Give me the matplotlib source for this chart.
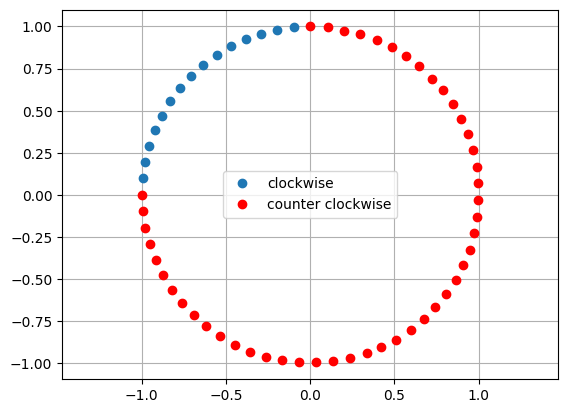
import matplotlib
matplotlib.use("Agg")
import matplotlib.pyplot as plt

# points
cw_x = [-0.098, -0.195, -0.290, -0.383, -0.471, -0.556, -0.634, -0.707,
        -0.773, -0.831, -0.882, -0.924, -0.957, -0.981, -0.995]
cw_y = [0.995, 0.981, 0.957, 0.924, 0.882, 0.831, 0.773, 0.707,
        0.634, 0.556, 0.471, 0.383, 0.290, 0.195, 0.098]

ccw_x = [0.000, 0.103, 0.202, 0.298, 0.395, 0.484, 0.567, 0.649,
         0.724, 0.788, 0.847, 0.895, 0.936, 0.966, 0.990, 0.998,
         0.999, 0.993, 0.975, 0.948, 0.910, 0.863, 0.808, 0.744,
         0.675, 0.597, 0.512, 0.423, 0.335, 0.234, 0.137, 0.032,
         -0.064, -0.165, -0.262, -0.355, -0.445, -0.536, -0.617, -0.689,
         -0.762, -0.821, -0.875, -0.915, -0.951, -0.978, -0.994, -1.000]
ccw_y = [1.000, 0.995, 0.975, 0.954, 0.918, 0.876, 0.823, 0.764,
         0.690, 0.621, 0.538, 0.449, 0.360, 0.267, 0.168, 0.069,
         -0.030, -0.132, -0.228, -0.328, -0.419, -0.506, -0.591, -0.667,
         -0.738, -0.805, -0.859, -0.904, -0.940, -0.969, -0.987, -0.995,
         -0.995, -0.983, -0.963, -0.933, -0.892, -0.837, -0.779, -0.714,
         -0.643, -0.564, -0.477, -0.388, -0.293, -0.198, -0.097, 0.000]

fig, ax = plt.subplots(figsize=(6.4, 4.8))
ax.plot(cw_x, cw_y, 'o', label='clockwise')
ax.plot(ccw_x, ccw_y, 'o', color='red', label='counter clockwise')
ax.axis('equal')
ax.grid(True)
ax.legend(loc='center')
fig.savefig('out.png', dpi=100, bbox_inches='tight')
